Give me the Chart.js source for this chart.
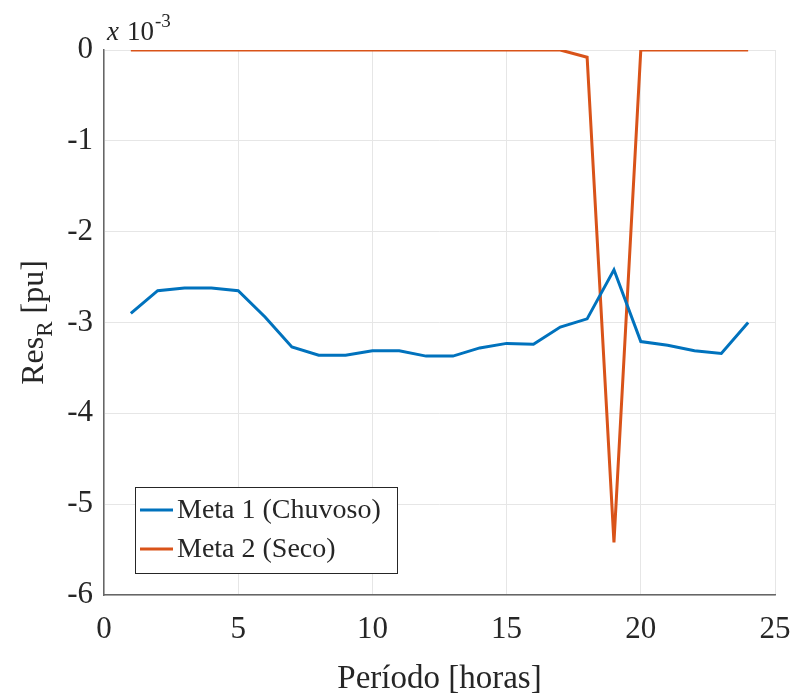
<!DOCTYPE html>
<html>
<head>
<meta charset="utf-8">
<script src="https://cdn.jsdelivr.net/npm/chart.js@4.4.0/dist/chart.umd.min.js"></script>
<style>
  html, body { margin: 0; padding: 0; background: #fff; }
  #wrap { width: 792px; height: 699px; }
</style>
</head>
<body>
<div id="wrap"><canvas id="chart"></canvas></div>
<script>
// Data (values are in units of 10^-3 pu)
const hours = [1, 2, 3, 4, 5, 6, 7, 8, 9, 10, 11, 12, 13, 14, 15, 16, 17, 18, 19, 20, 21, 22, 23, 24];
const meta1 = [-2.90, -2.65, -2.62, -2.62, -2.65, -2.94, -3.27, -3.36, -3.36, -3.31, -3.31, -3.37,
               -3.37, -3.28, -3.23, -3.24, -3.05, -2.96, -2.42, -3.21, -3.25, -3.31, -3.34, -3.00];
const meta2 = [0, 0, 0, 0, 0, 0, 0, 0, 0, 0, 0, 0,
               0, 0, 0, 0, 0, -0.08, -5.42, 0, 0, 0, 0, 0];
const seriesLabels = ['Meta 1 (Chuvoso)', 'Meta 2 (Seco)'];
const xTicks = [0, 5, 10, 15, 20, 25];
const yTicks = [-6, -5, -4, -3, -2, -1, 0];

const SERIF = "'Liberation Serif', 'DejaVu Serif', serif";
const BLUE = '#0072BD';
const ORANGE = '#D95319';

const toPoints = ys => hours.map((h, i) => ({ x: h, y: ys[i] }));

// Draws the exponent, y title with subscript, x title and the legend box
const annotations = {
  id: 'annotations',
  afterDraw(chart) {
    const ctx = chart.ctx;
    const area = chart.chartArea;
    ctx.save();
    ctx.fillStyle = '#262626';
    ctx.textBaseline = 'alphabetic';

    // x 10^-3 multiplier
    ctx.font = 'italic 27px ' + SERIF;
    ctx.textAlign = 'left';
    ctx.fillText('x', 107, 40);
    ctx.font = '27px ' + SERIF;
    ctx.fillText('10', 127, 40);
    ctx.font = '19px ' + SERIF;
    ctx.fillText('-3', 155, 27);

    // x axis title
    ctx.font = '33px ' + SERIF;
    ctx.textAlign = 'center';
    ctx.fillText('Período [horas]', (area.left + area.right) / 2, 688);

    // y axis title, rotated, with subscript R
    ctx.save();
    ctx.translate(43, (area.top + area.bottom) / 2);
    ctx.rotate(-Math.PI / 2);
    ctx.font = '32px ' + SERIF;
    const w1 = ctx.measureText('Res').width;
    ctx.font = '23px ' + SERIF;
    const w2 = ctx.measureText('R').width;
    ctx.font = '32px ' + SERIF;
    const w3 = ctx.measureText(' [pu]').width;
    const x0 = -(w1 + w2 + w3) / 2;
    ctx.textAlign = 'left';
    ctx.fillText('Res', x0, 0);
    ctx.font = '23px ' + SERIF;
    ctx.fillText('R', x0 + w1, 9);
    ctx.font = '32px ' + SERIF;
    ctx.fillText(' [pu]', x0 + w1 + w2, 0);
    ctx.restore();

    // legend
    const lx = 135, ly = 487, lw = 262, lh = 86;
    ctx.fillStyle = '#ffffff';
    ctx.fillRect(lx, ly, lw, lh);
    ctx.strokeStyle = '#262626';
    ctx.lineWidth = 1;
    ctx.strokeRect(lx + 0.5, ly + 0.5, lw, lh);
    ctx.font = '28px ' + SERIF;
    ctx.textAlign = 'left';
    ctx.textBaseline = 'middle';
    chart.data.datasets.forEach((ds, i) => {
      const cy = ly + 23 + i * 39;
      ctx.strokeStyle = ds.borderColor;
      ctx.lineWidth = 3;
      ctx.beginPath();
      ctx.moveTo(lx + 5, cy);
      ctx.lineTo(lx + 38, cy);
      ctx.stroke();
      ctx.fillStyle = '#262626';
      ctx.fillText(ds.label, lx + 42, cy + 1);
    });
    ctx.restore();
  }
};

new Chart(document.getElementById('chart'), {
  type: 'line',
  data: {
    datasets: [
      {
        label: seriesLabels[0],
        data: toPoints(meta1),
        borderColor: BLUE,
        borderWidth: 3,
        pointRadius: 0,
        tension: 0,
        fill: false
      },
      {
        label: seriesLabels[1],
        data: toPoints(meta2),
        borderColor: ORANGE,
        borderWidth: 3,
        pointRadius: 0,
        tension: 0,
        fill: false
      }
    ]
  },
  options: {
    responsive: true,
    maintainAspectRatio: false,
    animation: false,
    events: [],
    layout: { padding: { top: 50, right: 17, left: 0, bottom: 0 } },
    plugins: {
      legend: { display: false },
      tooltip: { enabled: false }
    },
    scales: {
      x: {
        type: 'linear',
        min: 0,
        max: 25,
        afterBuildTicks: s => { s.ticks = xTicks.map(v => ({ value: v })); },
        afterFit: s => {
          s.height = 104;
          s.paddingLeft = 0;
          s.paddingRight = 0;
        },
        ticks: {
          color: '#262626',
          font: { family: SERIF, size: 31 },
          padding: 16,
          maxRotation: 0
        },
        grid: { color: '#e6e6e6', lineWidth: 1, drawTicks: false },
        border: { color: '#666666', width: 1.5 }
      },
      y: {
        min: -6,
        max: 0,
        afterBuildTicks: s => { s.ticks = yTicks.map(v => ({ value: v })); },
        afterFit: s => {
          s.width = 104;
          s.paddingTop = 0;
          s.paddingBottom = 0;
        },
        ticks: {
          color: '#262626',
          font: { family: SERIF, size: 31 },
          padding: 11
        },
        grid: { color: '#e6e6e6', lineWidth: 1, drawTicks: false },
        border: { color: '#666666', width: 1.5 }
      }
    }
  },
  plugins: [annotations]
});
</script>
</body>
</html>
